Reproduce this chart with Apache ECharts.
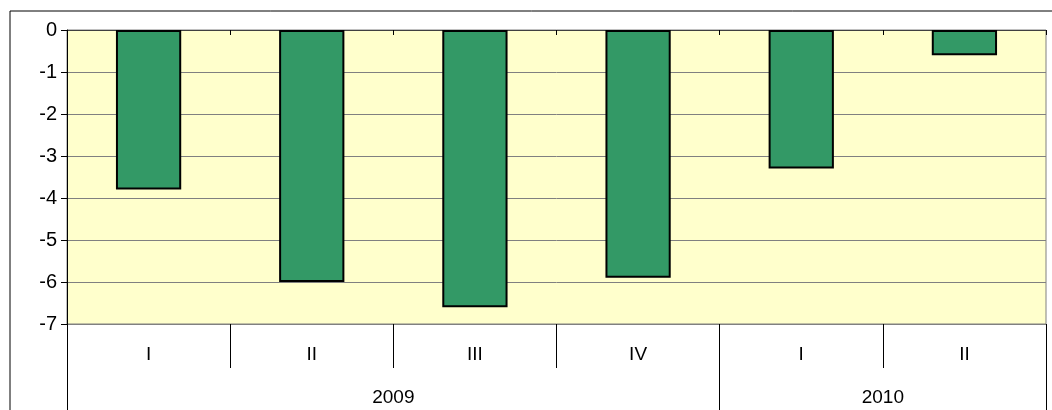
<!DOCTYPE html>
<html>
<head>
<meta charset="utf-8">
<script src="https://cdn.jsdelivr.net/npm/echarts@6/dist/echarts.min.js"></script>
<style>
html,body{margin:0;padding:0;background:#fff;}
#chart{width:1052px;height:410px;}
</style>
</head>
<body>
<div id="chart"></div>
<script>
var quarters = ['I', 'II', 'III', 'IV', 'I', 'II'];
var values = [-3.8, -6.0, -6.6, -5.9, -3.3, -0.6];
var years = ['2009', '2010'];
var yearSpans = [4, 2];
var yTicks = [-7, -6, -5, -4, -3, -2, -1, 0];

var yearBounds = [0];
var yearCenters = [];
(function () {
  var s = 0;
  for (var i = 0; i < yearSpans.length; i++) {
    yearCenters.push(s + yearSpans[i] / 2);
    s += yearSpans[i];
    yearBounds.push(s);
  }
})();

var chart = echarts.init(document.getElementById('chart'));
var font = 'Liberation Sans, Arial, sans-serif';
var fs = 19;
chart.setOption({
  animation: false,
  backgroundColor: '#ffffff',
  graphic: [{
    type: 'rect', shape: {x: 10, y: 11, width: 1200, height: 600},
    style: {fill: 'none', stroke: '#000', lineWidth: 1}, z: -1, silent: true
  }],
  grid: {
    left: 67, top: 30, right: 6, bottom: 86,
    show: true, backgroundColor: '#FFFFCC', borderColor: '#808080', borderWidth: 1
  },
  xAxis: [{
    type: 'category', data: quarters, position: 'bottom',
    axisLine: {show: true, onZero: false, lineStyle: {color: '#808080', width: 1}},
    axisTick: {show: true, interval: 0, length: 44, lineStyle: {color: '#000'}},
    axisLabel: {interval: 0, margin: 21, fontSize: fs, color: '#000', fontFamily: font},
    splitLine: {show: false}
  }, {
    type: 'value', min: 0, max: quarters.length, position: 'bottom',
    axisLine: {show: false, onZero: false},
    axisTick: {show: true, customValues: yearBounds, length: 86, lineStyle: {color: '#000'}},
    axisLabel: {
      customValues: yearCenters, margin: 64, fontSize: fs, color: '#000', fontFamily: font,
      formatter: function (v) {
        var idx = yearCenters.indexOf(v);
        return idx >= 0 ? years[idx] : '';
      }
    },
    splitLine: {show: false}
  }, {
    type: 'category', data: quarters, position: 'top',
    axisLine: {show: true, onZero: false, lineStyle: {color: '#404040', width: 1}},
    axisTick: {show: true, inside: true, interval: 0, length: 5, lineStyle: {color: '#000'}},
    axisLabel: {show: false},
    splitLine: {show: false}
  }],
  yAxis: {
    type: 'value', min: yTicks[0], max: yTicks[yTicks.length - 1], interval: 1,
    axisLine: {show: true, onZero: false, lineStyle: {color: '#000', width: 1}},
    axisTick: {show: true, length: 6, lineStyle: {color: '#000'}},
    axisLabel: {margin: 10, fontSize: 20, color: '#000', fontFamily: font},
    splitLine: {show: true, lineStyle: {color: '#808080', width: 1}}
  },
  series: [{
    type: 'bar', xAxisIndex: 0, data: values, barWidth: '40%',
    itemStyle: {color: '#339966', borderColor: '#000', borderWidth: 2}
  }]
});
</script>
</body>
</html>
